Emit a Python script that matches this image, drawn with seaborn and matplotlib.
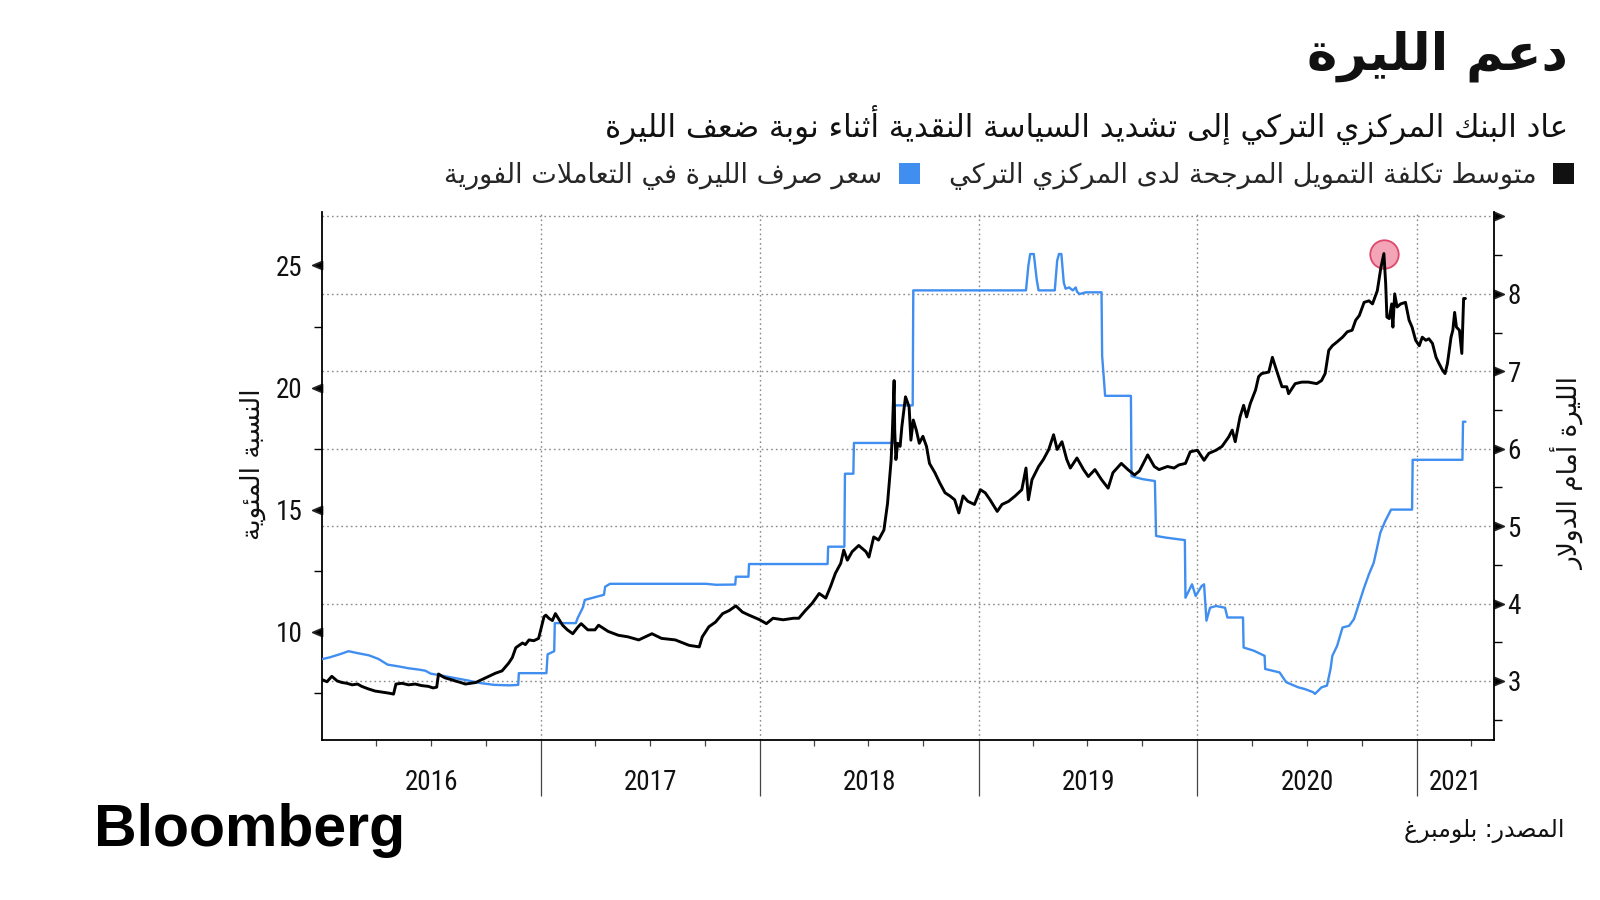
import numpy as np
import pandas as pd
import matplotlib
matplotlib.use("Agg")
import matplotlib.pyplot as plt
import matplotlib.transforms as mtransforms
from matplotlib.path import Path
from matplotlib.patches import Patch
import seaborn as sns

# ---------------- data ----------------
# USD/TRY spot, right axis (black line)
usd_2016 = [("2016-01-01", 3.02), ("2016-01-10", 2.99), ("2016-01-18", 3.06), ("2016-01-27", 3.00),
            ("2016-02-04", 2.98), ("2016-02-12", 2.97), ("2016-02-21", 2.95), ("2016-03-01", 2.96),
            ("2016-03-08", 2.93), ("2016-03-18", 2.90), ("2016-03-30", 2.87), ("2016-04-08", 2.86),
            ("2016-04-16", 2.85), ("2016-04-24", 2.84), ("2016-04-30", 2.83), ("2016-05-04", 2.96),
            ("2016-05-14", 2.97), ("2016-05-25", 2.95), ("2016-06-05", 2.96), ("2016-06-16", 2.94),
            ("2016-06-27", 2.93), ("2016-07-05", 2.91), ("2016-07-11", 2.92), ("2016-07-14", 3.09),
            ("2016-07-20", 3.06), ("2016-07-25", 3.04), ("2016-08-03", 3.02), ("2016-08-11", 3.00),
            ("2016-08-20", 2.98), ("2016-08-28", 2.96), ("2016-09-06", 2.97), ("2016-09-14", 2.98),
            ("2016-09-25", 3.02), ("2016-10-06", 3.06), ("2016-10-17", 3.10), ("2016-10-28", 3.13),
            ("2016-11-08", 3.23), ("2016-11-14", 3.30), ("2016-11-20", 3.43), ("2016-12-01", 3.49),
            ("2016-12-06", 3.47), ("2016-12-12", 3.53), ("2016-12-20", 3.52), ("2016-12-28", 3.55)]
usd_2017 = [("2017-01-06", 3.83), ("2017-01-09", 3.85), ("2017-01-14", 3.81), ("2017-01-20", 3.78),
            ("2017-01-25", 3.87), ("2017-02-06", 3.72), ("2017-02-14", 3.66), ("2017-02-23", 3.61),
            ("2017-03-04", 3.70), ("2017-03-09", 3.74), ("2017-03-20", 3.66), ("2017-04-01", 3.66),
            ("2017-04-07", 3.72), ("2017-04-23", 3.64), ("2017-05-10", 3.59), ("2017-05-26", 3.57),
            ("2017-06-13", 3.53), ("2017-07-05", 3.61), ("2017-07-21", 3.55), ("2017-08-13", 3.53),
            ("2017-09-05", 3.46), ("2017-09-22", 3.44), ("2017-09-27", 3.57), ("2017-10-08", 3.70),
            ("2017-10-19", 3.76), ("2017-10-31", 3.87), ("2017-11-11", 3.91), ("2017-11-22", 3.97),
            ("2017-12-03", 3.89), ("2017-12-14", 3.85)]
usd_2018 = [("2018-01-01", 3.79), ("2018-01-12", 3.74), ("2018-01-23", 3.81), ("2018-02-09", 3.79),
            ("2018-02-26", 3.81), ("2018-03-07", 3.81), ("2018-03-18", 3.91), ("2018-03-29", 4.00),
            ("2018-04-10", 4.13), ("2018-04-21", 4.07), ("2018-04-29", 4.22), ("2018-05-07", 4.39),
            ("2018-05-16", 4.52), ("2018-05-21", 4.69), ("2018-05-27", 4.56), ("2018-06-04", 4.67),
            ("2018-06-15", 4.75), ("2018-06-27", 4.67), ("2018-07-02", 4.60), ("2018-07-10", 4.86),
            ("2018-07-18", 4.82), ("2018-07-27", 4.95), ("2018-08-02", 5.29), ("2018-08-08", 5.85),
            ("2018-08-10", 6.20), ("2018-08-13", 6.88), ("2018-08-14", 6.24), ("2018-08-16", 5.86),
            ("2018-08-19", 6.07), ("2018-08-23", 6.03), ("2018-08-26", 6.29), ("2018-09-01", 6.67),
            ("2018-09-07", 6.54), ("2018-09-10", 6.11), ("2018-09-14", 6.37), ("2018-09-19", 6.24),
            ("2018-09-24", 6.07), ("2018-09-30", 6.16), ("2018-10-06", 6.03), ("2018-10-11", 5.81),
            ("2018-10-20", 5.69), ("2018-10-28", 5.56), ("2018-11-06", 5.43), ("2018-11-14", 5.39),
            ("2018-11-22", 5.34), ("2018-11-29", 5.17), ("2018-12-06", 5.39), ("2018-12-14", 5.32),
            ("2018-12-25", 5.28)]
usd_2019 = [("2019-01-04", 5.47), ("2019-01-12", 5.43), ("2019-01-20", 5.34), ("2019-02-01", 5.19),
            ("2019-02-09", 5.28), ("2019-02-20", 5.32), ("2019-03-03", 5.39), ("2019-03-14", 5.47),
            ("2019-03-21", 5.75), ("2019-03-25", 5.34), ("2019-03-31", 5.60), ("2019-04-11", 5.77),
            ("2019-04-19", 5.86), ("2019-04-28", 5.99), ("2019-05-06", 6.18), ("2019-05-12", 5.99),
            ("2019-05-20", 6.09), ("2019-05-28", 5.86), ("2019-06-03", 5.75), ("2019-06-14", 5.88),
            ("2019-06-25", 5.73), ("2019-07-03", 5.64), ("2019-07-14", 5.73), ("2019-07-25", 5.60),
            ("2019-08-05", 5.49), ("2019-08-13", 5.69), ("2019-08-27", 5.81), ("2019-09-07", 5.73),
            ("2019-09-18", 5.66), ("2019-09-26", 5.71), ("2019-10-10", 5.92), ("2019-10-21", 5.77),
            ("2019-10-29", 5.73), ("2019-11-12", 5.77), ("2019-11-23", 5.75), ("2019-12-01", 5.79),
            ("2019-12-12", 5.81), ("2019-12-20", 5.96)]
usd_2020 = [("2020-01-01", 5.98), ("2020-01-12", 5.85), ("2020-01-20", 5.94), ("2020-02-01", 5.98),
            ("2020-02-11", 6.03), ("2020-02-22", 6.15), ("2020-02-28", 6.24), ("2020-03-04", 6.09),
            ("2020-03-12", 6.41), ("2020-03-18", 6.56), ("2020-03-23", 6.41), ("2020-03-29", 6.58),
            ("2020-04-07", 6.76), ("2020-04-12", 6.93), ("2020-04-17", 6.97), ("2020-04-29", 6.99),
            ("2020-05-05", 7.18), ("2020-05-12", 7.01), ("2020-05-21", 6.80), ("2020-05-29", 6.80),
            ("2020-06-01", 6.71), ("2020-06-12", 6.84), ("2020-06-23", 6.86), ("2020-07-04", 6.86),
            ("2020-07-18", 6.84), ("2020-07-26", 6.88), ("2020-08-01", 6.97), ("2020-08-07", 7.27),
            ("2020-08-13", 7.33), ("2020-08-21", 7.38), ("2020-08-30", 7.44), ("2020-09-07", 7.51),
            ("2020-09-15", 7.53), ("2020-09-21", 7.66), ("2020-09-27", 7.72), ("2020-10-05", 7.89),
            ("2020-10-13", 7.91), ("2020-10-19", 7.87), ("2020-10-27", 8.04), ("2020-11-02", 8.34),
            ("2020-11-05", 8.45), ("2020-11-07", 8.52), ("2020-11-10", 8.13), ("2020-11-12", 7.70),
            ("2020-11-16", 7.68), ("2020-11-20", 7.87), ("2020-11-22", 7.57), ("2020-11-25", 8.00),
            ("2020-11-29", 7.83), ("2020-12-05", 7.87), ("2020-12-13", 7.89), ("2020-12-19", 7.66),
            ("2020-12-24", 7.57), ("2020-12-30", 7.40)]
usd_2021 = [("2021-01-05", 7.33), ("2021-01-10", 7.44), ("2021-01-16", 7.40), ("2021-01-21", 7.42),
            ("2021-01-27", 7.36), ("2021-02-02", 7.18), ("2021-02-07", 7.10), ("2021-02-13", 7.01),
            ("2021-02-17", 6.97), ("2021-02-21", 7.10), ("2021-02-27", 7.44), ("2021-03-02", 7.53),
            ("2021-03-05", 7.76), ("2021-03-08", 7.57), ("2021-03-13", 7.53), ("2021-03-17", 7.23),
            ("2021-03-20", 7.94), ("2021-03-23", 7.94)]

# CBRT weighted average funding cost, %, left axis (blue line)
rate_2016 = [("2016-01-01", 8.87), ("2016-01-15", 8.95), ("2016-02-01", 9.08), ("2016-02-15", 9.20),
             ("2016-03-01", 9.12), ("2016-03-20", 9.03), ("2016-04-05", 8.88), ("2016-04-20", 8.65),
             ("2016-05-10", 8.57), ("2016-05-25", 8.50), ("2016-06-10", 8.45), ("2016-06-22", 8.40),
             ("2016-07-01", 8.28), ("2016-07-20", 8.20), ("2016-08-10", 8.10), ("2016-09-01", 8.00),
             ("2016-09-20", 7.90), ("2016-10-15", 7.82), ("2016-11-10", 7.80), ("2016-11-24", 7.82),
             ("2016-11-25", 8.30)]
rate_2017 = [("2017-01-10", 8.30), ("2017-01-12", 9.07), ("2017-01-23", 9.20), ("2017-01-24", 10.35),
             ("2017-02-28", 10.35), ("2017-03-03", 10.55), ("2017-03-12", 11.00), ("2017-03-15", 11.30),
             ("2017-04-16", 11.51), ("2017-04-18", 11.84), ("2017-04-26", 11.96), ("2017-07-01", 11.96),
             ("2017-10-03", 11.96), ("2017-10-20", 11.92), ("2017-11-21", 11.93), ("2017-11-22", 12.25),
             ("2017-12-13", 12.25), ("2017-12-14", 12.77)]
rate_2018 = [("2018-04-24", 12.77), ("2018-04-25", 13.48), ("2018-05-22", 13.48), ("2018-05-23", 16.47),
             ("2018-06-06", 16.47), ("2018-06-07", 17.73), ("2018-08-12", 17.73), ("2018-08-13", 19.27),
             ("2018-09-13", 19.27), ("2018-09-14", 23.98)]
rate_2019 = [("2019-03-21", 23.98), ("2019-03-25", 25.00), ("2019-03-28", 25.47), ("2019-04-03", 25.47),
             ("2019-04-08", 24.40), ("2019-04-11", 23.98), ("2019-05-08", 23.98), ("2019-05-12", 25.20),
             ("2019-05-15", 25.47), ("2019-05-19", 25.47), ("2019-05-23", 24.30), ("2019-05-26", 24.05),
             ("2019-06-01", 24.10), ("2019-06-07", 23.98), ("2019-06-12", 24.10), ("2019-06-14", 23.93),
             ("2019-06-18", 23.83), ("2019-06-29", 23.90), ("2019-07-25", 23.90), ("2019-07-26", 21.30),
             ("2019-07-31", 19.66), ("2019-09-12", 19.66), ("2019-09-13", 16.37), ("2019-10-01", 16.25),
             ("2019-10-22", 16.17), ("2019-10-24", 13.92), ("2019-11-10", 13.85), ("2019-12-11", 13.75),
             ("2019-12-12", 11.39), ("2019-12-23", 11.94), ("2019-12-29", 11.46)]
rate_2020 = [("2020-01-08", 11.87), ("2020-01-12", 11.94), ("2020-01-16", 10.45), ("2020-01-22", 10.98),
             ("2020-02-01", 11.05), ("2020-02-16", 10.98), ("2020-02-20", 10.58), ("2020-03-17", 10.58),
             ("2020-03-18", 9.35), ("2020-04-04", 9.22), ("2020-04-22", 9.01), ("2020-04-23", 8.47),
             ("2020-05-17", 8.33), ("2020-05-28", 7.93), ("2020-06-17", 7.72), ("2020-06-28", 7.65),
             ("2020-07-12", 7.52), ("2020-07-15", 7.45), ("2020-07-26", 7.72), ("2020-08-04", 7.79),
             ("2020-08-10", 8.47), ("2020-08-13", 9.01), ("2020-08-21", 9.42), ("2020-08-30", 10.17),
             ("2020-09-10", 10.24), ("2020-09-18", 10.51), ("2020-09-27", 11.19), ("2020-10-04", 11.73),
             ("2020-10-13", 12.35), ("2020-10-21", 12.82), ("2020-10-26", 13.37), ("2020-11-01", 14.05),
             ("2020-11-09", 14.52), ("2020-11-19", 15.00), ("2020-12-24", 15.00), ("2020-12-25", 17.04)]
rate_2021 = [("2021-03-18", 17.04), ("2021-03-19", 18.60), ("2021-03-23", 18.60)]

left_ticks = [10, 15, 20, 25]
left_minor = [7.5, 12.5, 17.5, 22.5]
right_ticks = [3, 4, 5, 6, 7, 8, 9]
right_tick_labels = ["3", "4", "5", "6", "7", "8", ""]
right_minor = [2.5, 3.5, 4.5, 5.5, 6.5, 7.5, 8.5]
years = ["2016", "2017", "2018", "2019", "2020", "2021"]

title = "دعم الليرة"
subtitle = "عاد البنك المركزي التركي إلى تشديد السياسة النقدية أثناء نوبة ضعف الليرة"
legend_black = "متوسط تكلفة التمويل المرجحة لدى المركزي التركي"
legend_blue = "سعر صرف الليرة في التعاملات الفورية"
ylabel_left = "النسبة المئوية"
ylabel_right = "الليرة أمام الدولار"
source = "المصدر: بلومبرغ"

# ---------------- Arabic shaping (presentation forms, visual order) ----------------
AR = {
    '\u0621': (0xFE80, 'N'), '\u0622': (0xFE81, 'R'), '\u0623': (0xFE83, 'R'), '\u0624': (0xFE85, 'R'),
    '\u0625': (0xFE87, 'R'), '\u0626': (0xFE89, 'D'), '\u0627': (0xFE8D, 'R'), '\u0628': (0xFE8F, 'D'),
    '\u0629': (0xFE93, 'R'), '\u062A': (0xFE95, 'D'), '\u062B': (0xFE99, 'D'), '\u062C': (0xFE9D, 'D'),
    '\u062D': (0xFEA1, 'D'), '\u062E': (0xFEA5, 'D'), '\u062F': (0xFEA9, 'R'), '\u0630': (0xFEAB, 'R'),
    '\u0631': (0xFEAD, 'R'), '\u0632': (0xFEAF, 'R'), '\u0633': (0xFEB1, 'D'), '\u0634': (0xFEB5, 'D'),
    '\u0635': (0xFEB9, 'D'), '\u0636': (0xFEBD, 'D'), '\u0637': (0xFEC1, 'D'), '\u0638': (0xFEC5, 'D'),
    '\u0639': (0xFEC9, 'D'), '\u063A': (0xFECD, 'D'), '\u0641': (0xFED1, 'D'), '\u0642': (0xFED5, 'D'),
    '\u0643': (0xFED9, 'D'), '\u0644': (0xFEDD, 'D'), '\u0645': (0xFEE1, 'D'), '\u0646': (0xFEE5, 'D'),
    '\u0647': (0xFEE9, 'D'), '\u0648': (0xFEED, 'R'), '\u0649': (0xFEEF, 'R'), '\u064A': (0xFEF1, 'D'),
}
LAMALEF = {'\u0622': 0xFEF5, '\u0623': 0xFEF7, '\u0625': 0xFEF9, '\u0627': 0xFEFB}


def shape(s):
    toks = []
    i = 0
    while i < len(s):
        c = s[i]
        if c == '\u0644' and i + 1 < len(s) and s[i + 1] in LAMALEF:
            toks.append((LAMALEF[s[i + 1]], 'R'))
            i += 2
            continue
        toks.append(AR.get(c, c))
        i += 1
    out = []
    for k, t in enumerate(toks):
        if isinstance(t, str):
            out.append(t)
            continue
        b, typ = t
        prev = toks[k - 1] if k > 0 else None
        nxt = toks[k + 1] if k + 1 < len(toks) else None
        jp = typ != 'N' and isinstance(prev, tuple) and prev[1] == 'D'
        jn = typ == 'D' and isinstance(nxt, tuple) and nxt[1] != 'N'
        off = 3 if (jp and jn) else 1 if jp else 2 if jn else 0
        out.append(chr(b + off))
    return ''.join(out)[::-1]


def frame(*parts, col):
    rows = [r for p in parts for r in p]
    df = pd.DataFrame(rows, columns=["date", col])
    df["date"] = pd.to_datetime(df["date"])
    return df


usd = frame(usd_2016, usd_2017, usd_2018, usd_2019, usd_2020, usd_2021, col="usdtry")
rate = frame(rate_2016, rate_2017, rate_2018, rate_2019, rate_2020, rate_2021, col="rate")

# ---------------- style ----------------
sns.set_theme(style="white")
plt.rcParams["font.family"] = ["DejaVu Sans"]
NUMFONT = ["Liberation Sans Narrow", "Roboto Condensed", "DejaVu Sans"]
TXT = "#111111"
BLUE = "#3f8ef0"

fig = plt.figure(figsize=(16, 9), dpi=100)
fig.patch.set_facecolor("white")
ax = fig.add_axes([0.201, 0.178, 0.7325, 0.5867])
ax2 = ax.twinx()

sns.lineplot(data=rate, x="date", y="rate", ax=ax, color=BLUE, linewidth=1.7,
             estimator=None, sort=True, zorder=3)
sns.lineplot(data=usd, x="date", y="usdtry", ax=ax2, color="black", linewidth=2.1,
             estimator=None, sort=True, zorder=3)

# highlight of the peak of the black series
pk = usd.loc[usd["usdtry"].idxmax()]
ax2.scatter([pk["date"]], [pk["usdtry"]], s=420, facecolor="#f39ab0", edgecolor="#dc3a62",
            linewidth=1.3, alpha=0.9, zorder=2)

x0, x1 = pd.Timestamp("2016-01-01"), pd.Timestamp("2021-05-09")
ax.set_xlim(x0, x1)
ax.set_ylim(5.57, 27.2)
ax2.set_ylim(2.24, 9.06)

for a in (ax, ax2):
    a.set_xlabel("")
    a.set_ylabel("")
    a.set_facecolor("none")
    for s in a.spines.values():
        s.set_visible(False)
ax.set_facecolor("white")
ax.patch.set_visible(True)
ax.set_zorder(0)
ax2.set_zorder(1)
ax2.patch.set_visible(False)
for s in ("left", "bottom"):
    ax.spines[s].set_visible(True)
    ax.spines[s].set_color("black")
    ax.spines[s].set_linewidth(1.3)
ax2.spines["right"].set_visible(True)
ax2.spines["right"].set_color("black")
ax2.spines["right"].set_linewidth(1.3)

# x ticks: long year ticks, short quarterly minor ticks
year_starts = pd.to_datetime([f"{y}-01-01" for y in years])
ax.set_xticks(year_starts[1:])
ax.set_xticklabels([])
quarters = [pd.Timestamp(f"{y}-{m:02d}-01") for y in years for m in (4, 7, 10)]
quarters = [q for q in quarters if q < x1]
ax.set_xticks(quarters, minor=True)
ax.tick_params(axis="x", which="major", direction="out", length=40, width=0.9, color="#444444",
               bottom=True)
ax.tick_params(axis="x", which="minor", direction="out", length=4, width=0.9, color="#444444",
               bottom=True)
ax.grid(axis="x", which="major", color="#8a8a8a", linestyle=(0, (1.2, 2.2)), linewidth=1.0)
ax.grid(axis="y", visible=False)
ax2.grid(False)

# year labels centred in each year span
bounds = list(year_starts) + [x1]
btrans = mtransforms.blended_transform_factory(ax.transData, ax.transAxes)
for i, y in enumerate(years):
    mid = bounds[i] + (bounds[i + 1] - bounds[i]) / 2
    ax.text(mid, -0.080, y, transform=btrans, ha="center", va="center", fontsize=19.5,
            family=NUMFONT, color=TXT)

# y ticks
ax.set_yticks(left_ticks)
ax.set_yticklabels([str(v) for v in left_ticks])
ax.set_yticks(left_minor, minor=True)
ax.tick_params(axis="y", which="major", left=True, length=0.01, pad=13.5, labelsize=19.5,
               labelcolor=TXT, labelfontfamily=NUMFONT)
ax.tick_params(axis="y", which="minor", left=True, direction="out", length=6, width=1.0,
               color="black")
ax2.set_yticks(right_ticks)
ax2.set_yticklabels(right_tick_labels)
ax2.set_yticks(right_minor, minor=True)
ax2.tick_params(axis="y", which="major", right=True, length=0.01, pad=10, labelsize=19.5,
                labelcolor=TXT, labelfontfamily=NUMFONT)
ax2.tick_params(axis="y", which="minor", right=True, direction="out", length=6, width=1.0,
                color="black")

tri_left = Path([(0, 0.42), (-1, 0), (0, -0.42), (0, 0.42)],
                [Path.MOVETO, Path.LINETO, Path.LINETO, Path.CLOSEPOLY])
tri_right = Path([(0, 0.42), (1, 0), (0, -0.42), (0, 0.42)],
                 [Path.MOVETO, Path.LINETO, Path.LINETO, Path.CLOSEPOLY])
for t in ax.yaxis.get_major_ticks():
    t.tick1line.set_marker(tri_left)
    t.tick1line.set_markersize(14)
    t.tick1line.set_color("black")
for t in ax2.yaxis.get_major_ticks():
    t.tick2line.set_marker(tri_right)
    t.tick2line.set_markersize(14)
    t.tick2line.set_color("black")

# horizontal dotted gridlines follow the right-hand axis
for r in right_ticks:
    disp = ax2.transData.transform((0, r))
    yl = ax.transData.inverted().transform(disp)[1]
    ax.axhline(yl, color="#8a8a8a", linestyle=(0, (1.2, 2.2)), linewidth=1.0, zorder=1)

# axis titles
fig.text(253 / 1600, 1 - 464 / 900, shape(ylabel_left), rotation=90, ha="center", va="center",
         fontsize=19, color=TXT)
fig.text(1568 / 1600, 1 - 474 / 900, shape(ylabel_right), rotation=90, ha="center", va="center",
         fontsize=19, color=TXT)

# title, subtitle
fig.text(0.98, 1 - 56 / 900, shape(title), ha="right", va="center", fontsize=37,
         fontweight="bold", color=TXT)
fig.text(0.98, 1 - 125 / 900, shape(subtitle), ha="right", va="center", fontsize=22.2, color=TXT)

# legend (right-to-left: square on the right of its text)
handles = [Patch(facecolor=BLUE, edgecolor="none"), Patch(facecolor="#111111", edgecolor="none")]
labels = [shape(legend_blue), shape(legend_black)]
fig.legend(handles, labels, loc="center right", bbox_to_anchor=(0.984, 1 - 176 / 900), ncol=2,
           markerfirst=False, frameon=False, fontsize=19.5, handlelength=0.78, handleheight=0.78,
           handletextpad=0.62, columnspacing=1.05, borderpad=0, borderaxespad=0)

# source and logo
fig.text(1564 / 1600, 1 - 831 / 900, shape(source), ha="right", va="center", fontsize=17,
         color=TXT)
fig.text(94 / 1600, 1 - 846 / 900, "Bloomberg", ha="left", va="baseline", fontsize=42.5,
         fontweight="bold", family=["Liberation Sans", "DejaVu Sans"], color="black")

fig.savefig("out.png", dpi=100, facecolor="white")
